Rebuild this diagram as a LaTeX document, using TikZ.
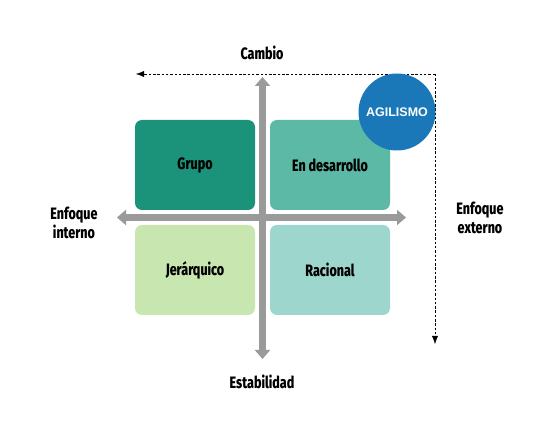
\documentclass[tikz,border=0pt]{standalone}
\usepackage{fontspec}
\setmainfont{Fira Sans}
\newfontfamily\labfont{Fira Sans}[FakeStretch=0.76, BoldFont={Fira Sans ExtraBold}]
\newfontfamily\circfont{Liberation Sans}
\usetikzlibrary{arrows.meta,positioning}
\definecolor{grupoc}{HTML}{1B937A}
\definecolor{desarc}{HTML}{5CB9A6}
\definecolor{jerarc}{HTML}{C8E6B0}
\definecolor{racioc}{HTML}{9DD6CC}
\definecolor{agilc}{HTML}{1A78B8}
\definecolor{axisc}{HTML}{9A9A9A}

\begin{document}
\begin{tikzpicture}[x=1pt, y=-1pt,
    quad/.style={rectangle, rounded corners=7pt, minimum width=120pt, minimum height=90pt, align=center, font=\labfont\bfseries\fontsize{16.5}{18}\selectfont},
    axislabel/.style={align=center, font=\labfont\bfseries\fontsize{16.5}{19}\selectfont},
    axis/.style={draw=axisc, line width=7pt, -{Triangle[width=15pt,length=9pt]}},
    dashline/.style={dash pattern=on 2.5pt off 1.8pt, thin, -{Latex[length=8pt,width=6pt]}}]
    \useasboundingbox (0,0) rectangle (555,435);
    % Quadrants
    \node[quad, fill=grupoc] (grupo) at (195, 165) {Grupo};
    \node[quad, fill=desarc] (desar) at (330, 165) {En desarrollo};
    \node[quad, fill=jerarc] (jerar) at (195, 270) {Jerárquico};
    \node[quad, fill=racioc] (racio) at (330, 270) {Racional};
    % Axis labels
    \node[axislabel] (cambio) at (262, 53) {Cambio};
    \node[axislabel] (estab) at (262, 382) {Estabilidad};
    \node[axislabel] (interno) at (74, 223) {Enfoque\\interno};
    \node[axislabel] (externo) at (480, 218) {Enfoque\\externo};
    % Axes
    \coordinate (center) at (262.5, 217.5);
    \coordinate (ytop) at (262.5, 77);
    \coordinate (ybot) at (262.5, 359);
    \coordinate (xleft) at (117, 217.5);
    \coordinate (xright) at (406, 217.5);
    \draw[axis] (center) -- (ytop);
    \draw[axis] (center) -- (ybot);
    \draw[axis] (center) -- (xleft);
    \draw[axis] (center) -- (xright);
    % Dashed guide
    \coordinate (corner) at (435, 74);
    \coordinate (dleft) at (136, 74);
    \coordinate (ddown) at (435, 344);
    \draw[dashline] (corner) -- (dleft);
    \draw[dashline] (corner) -- (ddown);
    % Agilismo
    \node[circle, fill=agilc, minimum size=77pt, inner sep=0pt, text=white, font=\circfont\bfseries\fontsize{12.5}{14}\selectfont] (agil) at (397, 112) {AGILISMO};
\end{tikzpicture}
\end{document}
